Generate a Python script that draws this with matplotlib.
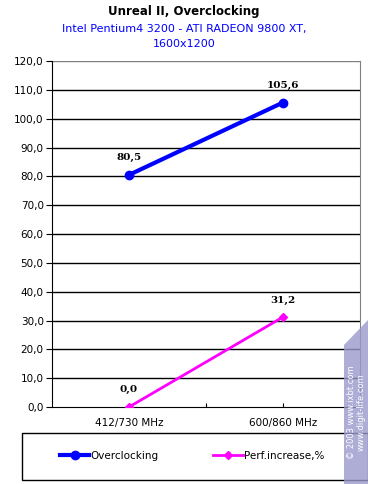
import matplotlib
matplotlib.use("Agg")
import matplotlib.pyplot as plt
from matplotlib.patches import Rectangle, Polygon

categories = ["412/730 MHz", "600/860 MHz"]
overclocking = [80.5, 105.6]
perf_increase = [0.0, 31.2]
yticks = [0, 10, 20, 30, 40, 50, 60, 70, 80, 90, 100, 110, 120]

plt.rcParams['font.family'] = ['DejaVu Sans']

fig = plt.figure(figsize=(3.68, 4.84), dpi=100)
ax = fig.add_axes([52/368, 77/484, 308/368, 346/484])

x = list(range(len(categories)))
ax.plot(x, overclocking, color='#0000FF', lw=3, marker='o', ms=6, label='Overclocking', zorder=3)
ax.plot(x, perf_increase, color='#FF00FF', lw=2, marker='D', ms=4, label='Perf.increase,%', zorder=3)

for xi, v in zip(x, overclocking):
    ax.annotate(f"{v:.1f}".replace('.', ','), (xi, v), xytext=(0, 9), textcoords='offset points',
                ha='center', va='bottom', fontsize=7.5, fontweight='bold', family='DejaVu Serif')
for xi, v in zip(x, perf_increase):
    ax.annotate(f"{v:.1f}".replace('.', ','), (xi, v), xytext=(0, 9), textcoords='offset points',
                ha='center', va='bottom', fontsize=7.5, fontweight='bold', family='DejaVu Serif')

ax.set_xlim(-0.5, 1.5)
ax.set_ylim(0, 120)
ax.set_yticks(yticks)
ax.set_yticklabels([f"{t:.1f}".replace('.', ',') for t in yticks], fontsize=7.5)
ax.set_xticks([0, 0.5, 1])
ax.set_xticklabels([categories[0], "", categories[1]], fontsize=7.5)
ax.tick_params(axis='x', length=3, direction='in', color='black', pad=8)
ax.tick_params(axis='y', length=4, direction='out', pad=2)
for t in yticks[1:-1]:
    ax.axhline(t, color='black', lw=1, zorder=1)
ax.axhline(120, color='#808080', lw=1, zorder=1)
ax.spines['top'].set_visible(False)
ax.spines['right'].set_color('#808080')
ax.spines['left'].set_color('black')
ax.spines['bottom'].set_color('black')

fig.text(0.5, 1 - 12/484, "Unreal II, Overclocking", ha='center', va='center', fontsize=8.5, fontweight='bold')
fig.text(0.5, 1 - 29/484, "Intel Pentium4 3200 - ATI RADEON 9800 XT,", ha='center', va='center', fontsize=8, color='#0000FF')
fig.text(0.5, 1 - 44/484, "1600x1200", ha='center', va='center', fontsize=8, color='#0000FF')

# legend box
fig.patches.append(Rectangle((22/368, 4/484), 346/368, 47/484, transform=fig.transFigure,
                             fill=False, edgecolor='black', lw=1))
leg = fig.legend(loc='center', bbox_to_anchor=(192/368, 1 - 456/484), ncol=2, frameon=False,
                 fontsize=7.5, handlelength=2.8, handletextpad=0.1, columnspacing=5.3)

# watermark
fig.patches.append(Polygon([(344/368, 0), (368/368, 0), (368/368, 1 - 320/484), (344/368, 1 - 345/484)],
                           closed=True, transform=fig.transFigure, facecolor='#9999CC', edgecolor='none', alpha=0.8, zorder=5))
fig.text(351/368, 1 - 412/484, "© 2003 www.ixbt.com", rotation=90, ha='center', va='center', fontsize=6,
         color='white', zorder=6)
fig.text(361/368, 1 - 412/484, "www.digit-life.com", rotation=90, ha='center', va='center', fontsize=6,
         color='white', zorder=6)

fig.savefig("out.png", dpi=100)
